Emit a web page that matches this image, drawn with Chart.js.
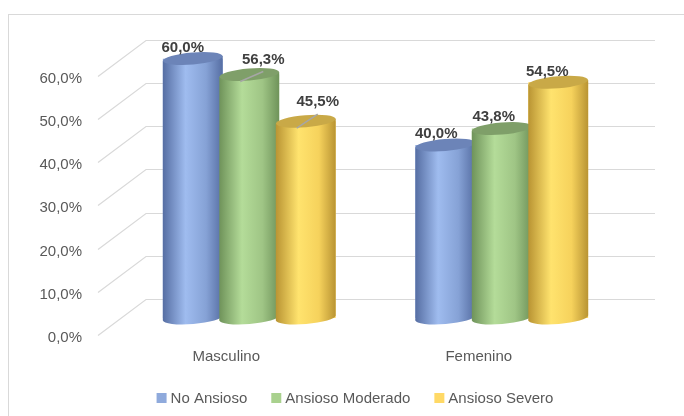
<!DOCTYPE html>
<html>
<head>
<meta charset="utf-8">
<script src="https://cdn.jsdelivr.net/npm/chart.js@4.4.1/dist/chart.umd.min.js"></script>
<style>
  body { margin: 0; background: #fff; }
  #wrap { position: relative; width: 684px; height: 416px; }
  #frame { position: absolute; left: 8px; top: 14px; width: 690px; height: 420px; border: 1px solid #d9d9d9; box-sizing: border-box; }
  canvas { position: absolute; left: 0; top: 0; }
</style>
</head>
<body>
<div id="wrap">
  <div id="frame"></div>
  <canvas id="chart" width="684" height="416"></canvas>
</div>
<script>
// data
const categories = ['Masculino', 'Femenino'];
const seriesNames = ['No Ansioso', 'Ansioso Moderado', 'Ansioso Severo'];
const noAnsioso = [60.0, 40.0];
const ansiosoModerado = [56.3, 43.8];
const ansiosoSevero = [45.5, 54.5];
const tickValues = [0, 10, 20, 30, 40, 50, 60];

// colours: flat, dark edge, light highlight, top cap
const palette = [
  { flat: '#8faadc', dark: '#566ea3', light: '#9fbcef', mid: '#86a2d6', top: '#6c84b8' },
  { flat: '#a9d18e', dark: '#6f935a', light: '#b4dc99', mid: '#9fc585', top: '#7f9f69' },
  { flat: '#ffd966', dark: '#b99433', light: '#ffe36e', mid: '#f6d25c', top: '#c9a947' }
];

// where Excel put the value labels (offset from the top of the bar)
const labelShift = [
  [[-10, -11], [-9, -11]],
  [[14, -15], [-8, -12]],
  [[12, -19], [-11, -10]]
];
const leaderLine = [[false, false], [true, false], [true, false]];

const DEPTH_X = 24, DEPTH_Y = 19;
const fmt = v => v.toFixed(1).replace('.', ',') + '%';

const wallPlugin = {
  id: 'wall',
  beforeDatasetsDraw(chart) {
    const { ctx, chartArea } = chart;
    const y = chart.scales.y;
    ctx.save();
    ctx.strokeStyle = '#d9d9d9';
    ctx.lineWidth = 1.2;
    tickValues.forEach(v => {
      const py = Math.round(y.getPixelForValue(v)) + 0.5;
      const backL = chartArea.left + DEPTH_X - 1;
      const backR = chartArea.right + 27;
      ctx.beginPath();
      ctx.moveTo(chartArea.left - DEPTH_X - 1, py + DEPTH_Y - 2);
      ctx.lineTo(backL, py - DEPTH_Y);
      ctx.lineTo(backR, py - DEPTH_Y);
      ctx.stroke();
    });
    // tick labels on the front edge
    ctx.fillStyle = '#595959';
    ctx.font = '15px "Liberation Sans", Arial, sans-serif';
    ctx.textAlign = 'right';
    ctx.textBaseline = 'middle';
    tickValues.forEach(v => {
      ctx.fillText(fmt(v), chartArea.left - 41, y.getPixelForValue(v) + DEPTH_Y + 1);
    });
    // category labels
    ctx.textAlign = 'center';
    const x = chart.scales.x;
    categories.forEach((c, i) => {
      ctx.fillText(c, x.getPixelForValue(i) - 23, chart.scales.y.getPixelForValue(0) + 39);
    });
    ctx.restore();
  }
};

const cylinderPlugin = {
  id: 'cylinder',
  afterDatasetsDraw(chart) {
    const ctx = chart.ctx;
    const rot = -0.08;
    categories.forEach((c, i) => {
      chart.data.datasets.forEach((ds, d) => {
        const el = chart.getDatasetMeta(d).data[i];
        const p = palette[d];
        const cx = el.x, top = el.y, base = el.base, w = el.width;
        const rx = w / 2, ry = 6;
        const s = rx * Math.sin(-rot);
        const g = ctx.createLinearGradient(cx - rx, 0, cx + rx, 0);
        g.addColorStop(0, p.dark);
        g.addColorStop(0.38, p.light);
        g.addColorStop(0.72, p.mid);
        g.addColorStop(1, p.dark);
        ctx.save();
        ctx.fillStyle = g;
        // bottom cap
        ctx.beginPath();
        ctx.ellipse(cx, base, rx, ry, rot, 0, Math.PI * 2);
        ctx.fill();
        // body
        ctx.beginPath();
        ctx.moveTo(cx - rx, base + s);
        ctx.lineTo(cx - rx, top + s);
        ctx.lineTo(cx + rx, top - s);
        ctx.lineTo(cx + rx, base - s);
        ctx.closePath();
        ctx.fill();
        // top cap
        ctx.fillStyle = p.top;
        ctx.beginPath();
        ctx.ellipse(cx, top, rx, ry, rot, 0, Math.PI * 2);
        ctx.fill();
        ctx.restore();
      });
    });
    // value labels
    ctx.save();
    ctx.font = 'bold 15px "Liberation Sans", Arial, sans-serif';
    ctx.fillStyle = '#404040';
    ctx.textAlign = 'center';
    ctx.textBaseline = 'middle';
    chart.data.datasets.forEach((ds, d) => {
      chart.getDatasetMeta(d).data.forEach((el, i) => {
        const [dx, dy] = labelShift[d][i];
        if (leaderLine[d][i]) {
          ctx.strokeStyle = '#a6a6a6';
          ctx.lineWidth = 1.5;
          ctx.beginPath();
          ctx.moveTo(el.x - 9, el.y + 7);
          ctx.lineTo(el.x + dx, el.y + dy + 12);
          ctx.stroke();
        }
        ctx.fillText(fmt(ds.data[i]), el.x + dx, el.y + dy);
      });
    });
    ctx.restore();
  }
};

const legendPlugin = {
  id: 'bottomLegend',
  afterDraw(chart) {
    const ctx = chart.ctx;
    ctx.save();
    ctx.font = '15px "Liberation Sans", Arial, sans-serif';
    ctx.textBaseline = 'middle';
    ctx.textAlign = 'left';
    const box = 10, gap = 4, spacing = 24;
    const widths = seriesNames.map(n => box + gap + ctx.measureText(n).width);
    const total = widths.reduce((a, b) => a + b, 0) + spacing * (seriesNames.length - 1);
    let x = 355 - total / 2;
    const y = 398;
    seriesNames.forEach((n, i) => {
      ctx.fillStyle = palette[i].flat;
      ctx.fillRect(x, y - box / 2, box, box);
      ctx.fillStyle = '#595959';
      ctx.fillText(n, x + box + gap, y + 1);
      x += widths[i] + spacing;
    });
    ctx.restore();
  }
};

new Chart(document.getElementById('chart'), {
  type: 'bar',
  data: {
    labels: categories,
    datasets: [
      { label: seriesNames[0], data: noAnsioso, backgroundColor: palette[0].flat },
      { label: seriesNames[1], data: ansiosoModerado, backgroundColor: palette[1].flat },
      { label: seriesNames[2], data: ansiosoSevero, backgroundColor: palette[2].flat }
    ]
  },
  options: {
    responsive: false,
    animation: false,
    devicePixelRatio: 1,
    categoryPercentage: 0.671,
    barPercentage: 1.06,
    layout: { padding: { left: 123, right: 56, top: 58.5, bottom: 98 } },
    scales: {
      x: { display: false, offset: true },
      y: { display: false, min: 0, max: 60 }
    },
    plugins: {
      legend: { display: false },
      tooltip: { enabled: false }
    }
  },
  plugins: [wallPlugin, cylinderPlugin, legendPlugin]
});
</script>
</body>
</html>
